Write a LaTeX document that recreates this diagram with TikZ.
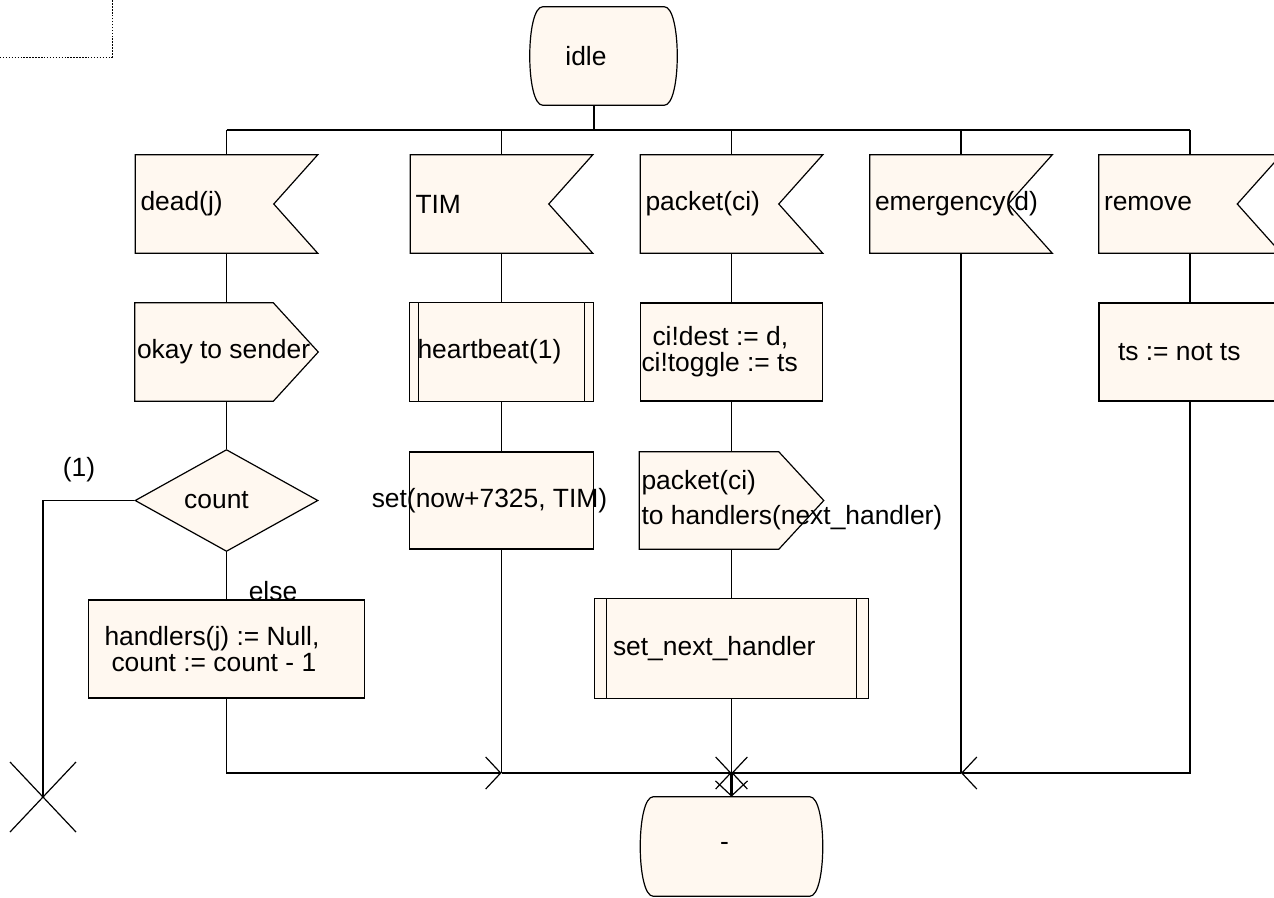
\documentclass[tikz,border=0pt]{standalone}
\usepackage{fontspec}
\setmainfont{Liberation Sans}
\usetikzlibrary{shapes.geometric,arrows.meta,backgrounds}
\definecolor{sdlfill}{RGB}{255,248,240}

% SDL symbol outlines, drawn from the anchors of a plain (invisible) node
\newcommand\sdlrecv[1]{%
  \filldraw[sdlline] (#1.north west) -- (#1.north east) -- ([xshift=-33pt]#1.east)
    -- (#1.south east) -- (#1.south west) -- cycle;}
\newcommand\sdlout[1]{%
  \filldraw[sdlline] (#1.north west) -- ([xshift=-33.75pt]#1.north east) -- (#1.east)
    -- ([xshift=-33.75pt]#1.south east) -- (#1.south west) -- cycle;}
\newcommand\sdlproc[2]{%
  \filldraw[sdlline] (#1.south west) rectangle (#1.north east);
  \draw[sdlline] ([xshift=#2]#1.south west) -- ([xshift=#2]#1.north west)
    ([xshift=-#2]#1.south east) -- ([xshift=-#2]#1.north east);}
\newcommand\sdlterm[1]{%
  \filldraw[sdlline] ([xshift=9.75pt]#1.north west) -- ([xshift=-9.75pt]#1.north east)
    .. controls ([xshift=3.25pt]#1.north east) and ([xshift=3.25pt]#1.south east) .. ([xshift=-9.75pt]#1.south east)
    -- ([xshift=9.75pt]#1.south west)
    .. controls ([xshift=-3.25pt]#1.south west) and ([xshift=-3.25pt]#1.north west) .. ([xshift=9.75pt]#1.north west)
    -- cycle;}

\tikzset{
  sdlline/.style={draw=black, line width=0.9pt, fill=sdlfill, line join=miter},
  every node/.style={font=\fontsize{19.8pt}{19.5pt}\selectfont},
  frame/.style={rectangle, inner ysep=0pt, align=flush left},
  recvsig/.style={frame, minimum width=136.5pt, minimum height=73.5pt,
    inner xsep=3.75pt, text width=129pt},
  taskbox/.style={rectangle, draw=black, line width=0.9pt, fill=sdlfill, inner ysep=0pt},
  termsym/.style={rectangle, inner sep=0pt},
  lbl/.style={inner sep=0pt},
  flow/.style={-{Straight Barb[length=11.25pt,width=24pt,line width=0.9pt]}},
  conn/.style={line width=0.9pt},
  pageframe/.style={line width=0.7pt, dash pattern=on 1.1pt off 1.1pt},
}

\begin{document}
\begin{tikzpicture}[x=0.75pt,y=-0.75pt]
\useasboundingbox (0,0) rectangle (1274,897);

% page frame corner
\draw[pageframe] (0,57) -- (112,57) -- (112,0);

% start state
\node[termsym, minimum width=110.25pt, minimum height=73.5pt] (idle) at (603.5,56) {idle\hspace{26.25pt}\null};

% input signals
\node[recvsig] (dead)   at (226.5,204) {dead(j)};
\node[recvsig] (tim)    at (501.5,204) {TIM};
\node[recvsig] (packet) at (731.5,204) {packet(ci)};
\node[recvsig] (emerg)  at (961,204)   {emergency(d)};
\node[recvsig] (remove) at (1190,204)  {remove};

% second row
\node[frame, minimum width=137.25pt, minimum height=73.5pt, inner xsep=1.5pt, text width=134.25pt]
  (okay) at (226.5,352) {okay to sender};
\node[frame, minimum width=138pt, minimum height=73.5pt, inner xsep=6pt, text width=126pt]
  (heartbeat) at (501.5,352) {heartbeat(1)};
\node[taskbox, frame, minimum width=136.5pt, minimum height=73.5pt, inner xsep=0.75pt, text width=135pt]
  (assign) at (731.5,352) {\hspace*{8.25pt}ci!dest := d,\\ci!toggle := ts};
\node[taskbox, frame, minimum width=136.5pt, minimum height=73.5pt, inner xsep=14.25pt, text width=108pt]
  (toggle) at (1190,352) {ts := not ts};

% third row
\node[diamond, draw=black, line width=0.9pt, fill=sdlfill, inner sep=0pt,
  minimum width=137.25pt, minimum height=72.75pt] (count) at (226.5,500.5) {count\hspace{15pt}\null};
\node[taskbox, minimum width=138pt, minimum height=72.75pt]
  (timer) at (501.5,500.5) {\makebox[0pt]{set(now+7325, TIM)\hspace{18pt}}};
\node[frame, minimum width=138pt, minimum height=72.75pt, inner xsep=1.5pt, text width=135pt]
  (handoff) at (731.5,500.5) {packet(ci)\\[6.75pt]\mbox{to handlers(next\_handler)}};

% fourth row
\node[taskbox, frame, minimum width=207pt, minimum height=73.5pt, inner xsep=12pt, text width=183pt]
  (reset) at (226.5,649) {handlers(j) := Null,\\\hspace*{5.25pt}count := count - 1};
\node[frame, minimum width=204.75pt, minimum height=74.25pt, inner xsep=13.5pt, text width=177.75pt]
  (nexth) at (731.5,648.5) {set\_next\_handler};

% next state
\node[termsym, minimum width=136.5pt, minimum height=74.25pt] (dash) at (731.5,846.5) {-\hspace{10.5pt}\null};

% labels
\node[lbl] (lblone)  at (79,470)  {(1)};
\node[lbl] (elselbl) at (273,591) {else};

% symbol outlines behind the texts
\begin{pgfonlayer}{background}
  \fill[white] (0,0) rectangle (1274,897);
  \sdlterm{idle}
  \sdlterm{dash}
  \sdlrecv{dead}
  \sdlrecv{tim}
  \sdlrecv{packet}
  \sdlrecv{emerg}
  \sdlrecv{remove}
  \sdlout{okay}
  \sdlout{handoff}
  \sdlproc{heartbeat}{7pt}
  \sdlproc{nexth}{9pt}
\end{pgfonlayer}

% branching after the start state
\coordinate (fork) at (594,130);
\draw[conn] (idle.south -| fork) -- (fork);
\draw[conn] (fork -| dead) -- (fork -| remove);
\foreach \s in {dead,tim,packet,emerg,remove}
  \draw[conn] (fork -| \s) -- (\s);

% column flows
\draw[conn] (dead) -- (okay);
\draw[conn] (okay) -- (count);
\draw[conn] (count) -- (reset);
\draw[conn] (tim) -- (heartbeat);
\draw[conn] (heartbeat) -- (timer);
\draw[conn] (packet) -- (assign);
\draw[conn] (assign) -- (handoff);
\draw[conn] (handoff) -- (nexth);
\draw[conn] (remove) -- (toggle);

% branch (1): stop
\coordinate (stop) at (43,797);
\draw[conn] (count.west) -| (stop);
\draw[conn] (stop) +(-33,-35) -- +(33,35) (stop) +(-33,35) -- +(33,-35);

% merge into next state
\coordinate (join) at (731.5,773);
\draw[conn, flow] (reset) |- (join -| timer);
\draw[conn] (timer) -- (join -| timer);
\draw[conn, flow] (join -| timer) -- (join);
\draw[conn] (nexth) -- (join);
\draw[conn, flow] (toggle) |- (join -| emerg);
\draw[conn] (emerg) -- (join -| emerg);
\draw[conn, flow] (join -| emerg) -- (join);
\draw[flow, line width=1.6pt] (join) -- (dash);
\end{tikzpicture}
\end{document}
